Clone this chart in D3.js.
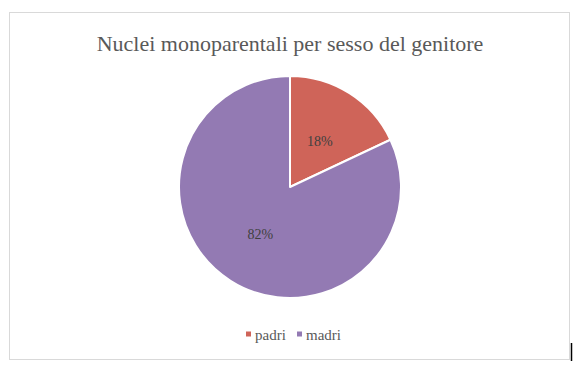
<!DOCTYPE html>
<html>
<head>
<meta charset="utf-8">
<script src="https://cdn.jsdelivr.net/npm/d3@7"></script>
<style>
body { margin: 0; background: #fff; }
svg { display: block; }
svg text { font-family: 'Liberation Serif', 'DejaVu Serif', serif; }
</style>
</head>
<body>
<svg width="580" height="372"></svg>
<script>
// chart data
var categories = ['padri', 'madri'];
var shares = [18, 82];
var colors = ['#CF6459', '#937AB3'];
var title = 'Nuclei monoparentali per sesso del genitore';

var svg = d3.select('svg');

// frame
svg.append('rect')
    .attr('x', 9.5).attr('y', 12.5)
    .attr('width', 560).attr('height', 347)
    .attr('fill', '#fff')
    .attr('stroke', '#d9d9d9');

// little black mark bottom right
svg.append('line')
    .attr('x1', 571.5).attr('x2', 571.5)
    .attr('y1', 343).attr('y2', 361)
    .attr('stroke', '#000').attr('stroke-width', 1.5);

svg.append('text')
    .attr('x', 290).attr('y', 51)
    .attr('text-anchor', 'middle')
    .style('font-size', '22px')
    .attr('fill', '#595959')
    .text(title);

var cx = 290, cy = 187, r = 111;
var pie = d3.pie().sort(null).value(d => d);
var arcs = pie(shares);
var arc = d3.arc().innerRadius(0).outerRadius(r);
var labelArc = d3.arc().innerRadius(r * 0.5).outerRadius(r * 0.5);

var g = svg.append('g').attr('transform', `translate(${cx},${cy})`);

g.selectAll('path')
    .data(arcs)
    .enter().append('path')
    .attr('d', arc)
    .attr('fill', (d, i) => colors[i])
    .attr('stroke', '#fff')
    .attr('stroke-width', 2)
    .attr('stroke-linejoin', 'round');

g.selectAll('text.lbl')
    .data(arcs)
    .enter().append('text')
    .attr('class', 'lbl')
    .attr('transform', d => `translate(${labelArc.centroid(d)})`)
    .attr('text-anchor', 'middle')
    .attr('dy', '0.4em')
    .style('font-size', '14px')
    .attr('fill', '#404040')
    .text(d => d.data + '%');

// legend
var legend = svg.append('g').attr('transform', 'translate(246,335)');
var offsets = [0, 51];
categories.forEach(function(c, i){
    var lg = legend.append('g').attr('transform', `translate(${offsets[i]},0)`);
    lg.append('rect')
        .attr('x', 0).attr('y', -3.5)
        .attr('width', 5).attr('height', 5)
        .attr('fill', colors[i]);
    lg.append('text')
        .attr('x', 9).attr('y', 0)
        .attr('dy', '0.35em')
        .style('font-size', '15px')
        .attr('fill', '#595959')
        .text(c);
});
</script>
</body>
</html>
